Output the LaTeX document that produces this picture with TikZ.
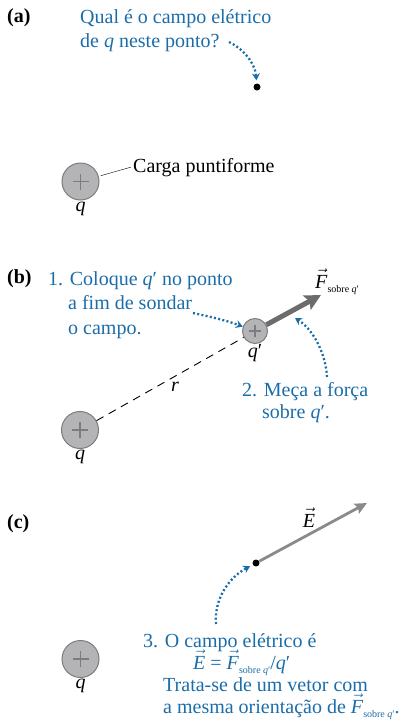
\documentclass[tikz,border=0pt]{standalone}
\usepackage{fontspec}
\setmainfont{Liberation Serif}
\usetikzlibrary{arrows.meta,positioning}
\definecolor{noteblue}{HTML}{1B6DAA}
\definecolor{chargefill}{HTML}{B4B4B7}
\definecolor{chargeedge}{HTML}{7C7C7E}
\definecolor{forcegray}{HTML}{6C6C6C}
\definecolor{fieldgray}{HTML}{8A8A8A}
\newcommand{\qp}{\textit{q}′}
\newcommand{\sobreq}{\raisebox{-4pt}[0pt][0pt]{\fontsize{10}{10}\selectfont sobre \textit{q}′}}
\newcommand{\vE}{$\vec{\mbox{\textit{E}}}$}
\newcommand{\vF}{$\vec{\mbox{\textit{F}}}$}
\newcommand{\lines}[1]{\begin{tabular}[t]{@{}l@{}}#1\end{tabular}}

\begin{document}
\begin{tikzpicture}[x=1pt,y=-1pt,font=\fontsize{20}{24.5}\selectfont,
  charge/.style={circle,draw=chargeedge,fill=chargefill,line width=1pt,minimum size=37pt,inner sep=0pt,
    path picture={\draw[chargeedge,line width=1.6pt]
      ([xshift=-8pt]path picture bounding box.center) -- ([xshift=8pt]path picture bounding box.center)
      ([yshift=-8pt]path picture bounding box.center) -- ([yshift=8pt]path picture bounding box.center);}},
  probe/.style={circle,draw=chargeedge,fill=chargefill,line width=1pt,minimum size=25pt,inner sep=0pt,
    path picture={\draw[chargeedge,line width=1.4pt]
      ([xshift=-6pt]path picture bounding box.center) -- ([xshift=6pt]path picture bounding box.center)
      ([yshift=-6pt]path picture bounding box.center) -- ([yshift=6pt]path picture bounding box.center);}},
  note/.style={text=noteblue,inner sep=0pt,anchor=base west},
  pointer/.style={noteblue,line width=2.3pt,dash pattern=on 2pt off 2.3pt,
    -{Stealth[length=7pt,width=8pt,inset=2.5pt]}},
  dot/.style={circle,fill=black,inner sep=0pt,minimum size=7pt}]
  \useasboundingbox (0,0) rectangle (412,726);

  % (a)
  \node[anchor=base west,inner sep=0pt,font=\fontsize{20}{24.5}\selectfont\bfseries] (tagA) at (7,22) {(a)};
  \node[note] (askA) at (80,23) {\lines{Qual é o campo elétrico\\de \textit{q} neste ponto?}};
  \coordinate (askAend) at (229,42);
  \node[dot] (pa) at (257,87) {};
  \draw[pointer,shorten >=3pt] (askAend) .. controls (242,48) and (255,62) .. (pa);
  \node[charge] (qa) at (80.5,181.5) {};
  \node[below=1pt of qa,inner sep=0pt] (qalab) {\textit{q}};
  \node[anchor=base west,inner sep=2pt] (cp) at (131,172) {Carga puntiforme};
  \draw[shorten <=2pt] (qa) -- (cp.west);

  % (b)
  \node[anchor=base west,inner sep=0pt,font=\fontsize{20}{24.5}\selectfont\bfseries] (tagB) at (7,283) {(b)};
  \node[note] (stepOne) at (48,285) {\lines{1. Coloque \qp{} no ponto\\\hphantom{1.}\ a fim de sondar\\\hphantom{1.}\ o campo.}};
  \node[probe] (probe) at (255,331) {};
  \node[below=0pt of probe,inner sep=0pt] (probelab) {\qp};
  \node[charge] (qb) at (80,430) {};
  \node[below=1pt of qb,inner sep=0pt] (qblab) {\textit{q}};
  \draw[dash pattern=on 8pt off 6pt,line width=0.9pt] (qb) -- (probe);
  \node[anchor=base,inner sep=0pt] (rlab) at (175,391) {\textit{r}};
  \coordinate (ftip) at (321,295);
  \draw[forcegray,line width=5pt,-{Stealth[length=16pt,width=16pt,inset=3pt]}] (probe) -- (ftip);
  \node[anchor=base west,inner sep=0pt] (flab) at (315,288) {\vF\sobreq};
  \coordinate (stepOneEnd) at (193,313);
  \draw[pointer] (stepOneEnd) .. controls (212,317) and (228,321) .. (probe.160);
  \node[note,font=\fontsize{20}{22}\selectfont] (stepTwo) at (242,396) {\lines{2. Meça a força\\\hphantom{2.}\ sobre \qp.}};
  \coordinate (stepTwoStart) at (327,377);
  \coordinate (stepTwoEnd) at (295,318);
  \draw[pointer] (stepTwoStart) .. controls (326,355) and (314,330) .. (stepTwoEnd);

  % (c)
  \node[anchor=base west,inner sep=0pt,font=\fontsize{20}{24.5}\selectfont\bfseries] (tagC) at (7,528) {(c)};
  \node[dot] (pc) at (256,563) {};
  \coordinate (etip) at (367,503);
  \draw[fieldgray,line width=2.8pt,-{Stealth[length=12pt,width=11pt,inset=2pt]}] (pc) -- (etip);
  \node[anchor=base,inner sep=0pt] (elab) at (309,527) {\vE};
  \node[charge] (qc) at (80.5,659) {};
  \node[below=1pt of qc,inner sep=0pt] (qclab) {\textit{q}};
  \node[note,font=\fontsize{20}{22}\selectfont] (stepThree) at (143,647)
    {\lines{3. O campo elétrico é\\\hspace*{50pt}\smash{\vE}\ = \smash{\vF}\sobreq/\qp\\\hphantom{3.}\ Trata-se de um vetor com\\\hphantom{3.}\ a mesma orientação de \smash{\vF}\sobreq.}};
  \coordinate (stepThreeStart) at (216,624);
  \draw[pointer,shorten >=3pt] (stepThreeStart) .. controls (214,600) and (228,578) .. (pc);
\end{tikzpicture}
\end{document}
